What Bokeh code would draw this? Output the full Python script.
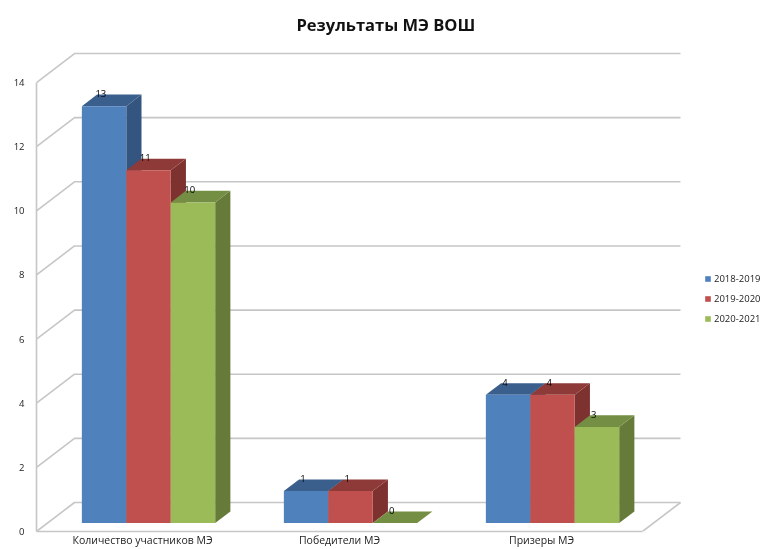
from bokeh.plotting import figure
from bokeh.models import FixedTicker, Legend, LegendItem, Title, ColumnDataSource
from bokeh.core.properties import value
from bokeh.embed import file_html
from bokeh.resources import INLINE

title = "Результаты МЭ ВОШ"
categories = ["Количество участников МЭ", "Победители МЭ", "Призеры МЭ"]
category_ticks = [0.025, 1, 2]
series_names = ["2018-2019", "2019-2020", "2020-2021"]
values_2018 = [13, 1, 4]
values_2019 = [11, 1, 4]
values_2020 = [10, 0, 3]
y_ticks = [0, 2, 4, 6, 8, 10, 12, 14]
front_colors = ["#4F81BD", "#C0504D", "#9BBB59"]
top_colors = ["#3B5F8C", "#8E3A38", "#748E43"]
side_colors = ["#34557F", "#7D3230", "#667A39"]

# 3D projection: a full step into the depth of the box, in data units
DX, DY = 38 / 202, 29 / 32.07
D0, D1 = 0.29, 0.69
BAR = 0.22
XMIN, XMAX, WALL_RIGHT = -0.5, 623 / 202, 2.5
GRID = "#C6C6C6"
FONT = "Open Sans"

p = figure(width=760, height=549, output_backend="svg", toolbar_location=None,
           x_range=(XMIN, XMAX), y_range=(0, 491 / 32.07),
           min_border_left=36, min_border_right=0, min_border_top=40, min_border_bottom=18,
           outline_line_color=None, margin=0)
p.styles = {"filter": "blur(0.6px)"}
p.title = Title(text=title, align="left", offset=260, text_font=FONT,
                text_font_size="16.5px", text_font_style="bold", text_color="#111111")
p.grid.visible = False

# walls and floor
wall_y = [t for t in y_ticks]
p.multi_line([[XMIN, XMIN + DX, WALL_RIGHT + DX] for _ in wall_y],
             [[t, t + DY, t + DY] for t in wall_y], line_color=GRID, line_width=1.6)
p.line([WALL_RIGHT, WALL_RIGHT + DX], [0, DY], line_color=GRID, line_width=1.6)

legend_items = []
for s, (name, vals) in enumerate(zip(series_names, [values_2018, values_2019, values_2020])):
    off = (s - 1) * BAR
    lefts = [i + off - BAR / 2 for i in range(len(vals))]
    rights = [l + BAR for l in lefts]
    xa, xb = D0 * DX, D1 * DX
    ya, yb = D0 * DY, D1 * DY
    p.patches([[r + xa, r + xb, r + xb, r + xa] for r in rights],
              [[ya, yb, v + yb, v + ya] for v in vals],
              fill_color=side_colors[s], line_color=None)
    p.patches([[l + xa, r + xa, r + xb, l + xb] for l, r in zip(lefts, rights)],
              [[v + ya, v + ya, v + yb, v + yb] for v in vals],
              fill_color=top_colors[s], line_color=None)
    r = p.quad(left=[l + xa for l in lefts], right=[r + xa for r in rights],
               bottom=ya, top=[v + ya for v in vals],
               fill_color=front_colors[s], line_color=None)
    legend_items.append(LegendItem(label=name, renderers=[r]))

for s, vals in enumerate([values_2018, values_2019, values_2020]):
    off = (s - 1) * BAR
    src = ColumnDataSource(dict(x=[i + off - BAR / 2 + D0 * DX + 19 / 202 for i in range(len(vals))],
                                y=[v + D1 * DY for v in vals], t=[str(v) for v in vals]))
    p.text("x", "y", text="t", source=src, text_font=value(FONT), text_font_size="9.5px",
           text_align="center", text_baseline="middle", text_color="#000000", y_offset=-1)

xa = p.xaxis[0]
xa.ticker = FixedTicker(ticks=category_ticks)
xa.major_label_overrides = dict(zip(category_ticks, categories))
xa.major_label_text_font = FONT
xa.major_label_text_font_size = "10.5px"
xa.major_label_text_color = "#222222"
xa.major_tick_line_color = None
xa.minor_tick_line_color = None
xa.major_tick_out = 0
xa.major_tick_in = 0
xa.minor_tick_out = 0
xa.minor_tick_in = 0
xa.axis_line_color = GRID
xa.axis_line_width = 1.6
xa.bounds = (XMIN, WALL_RIGHT)
xa.major_label_standoff = 1

ya = p.yaxis[0]
ya.ticker = FixedTicker(ticks=y_ticks)
ya.major_label_text_font = FONT
ya.major_label_text_font_size = "9.5px"
ya.major_label_text_color = "#222222"
ya.major_tick_line_color = None
ya.minor_tick_line_color = None
ya.major_tick_out = 0
ya.major_tick_in = 0
ya.minor_tick_out = 0
ya.minor_tick_in = 0
ya.axis_line_color = GRID
ya.axis_line_width = 1.6
ya.bounds = (0, 14)
ya.major_label_standoff = 12

legend = Legend(items=legend_items, location=(668, 206), glyph_width=7, glyph_height=7,
                label_standoff=3, spacing=7, padding=0, margin=0,
                border_line_color=None, background_fill_alpha=0,
                label_text_font=FONT, label_text_font_size="9.5px", label_height=7,
                label_text_color="#222222")
p.add_layout(legend)

open("out.html", "w").write(file_html(p, INLINE))
